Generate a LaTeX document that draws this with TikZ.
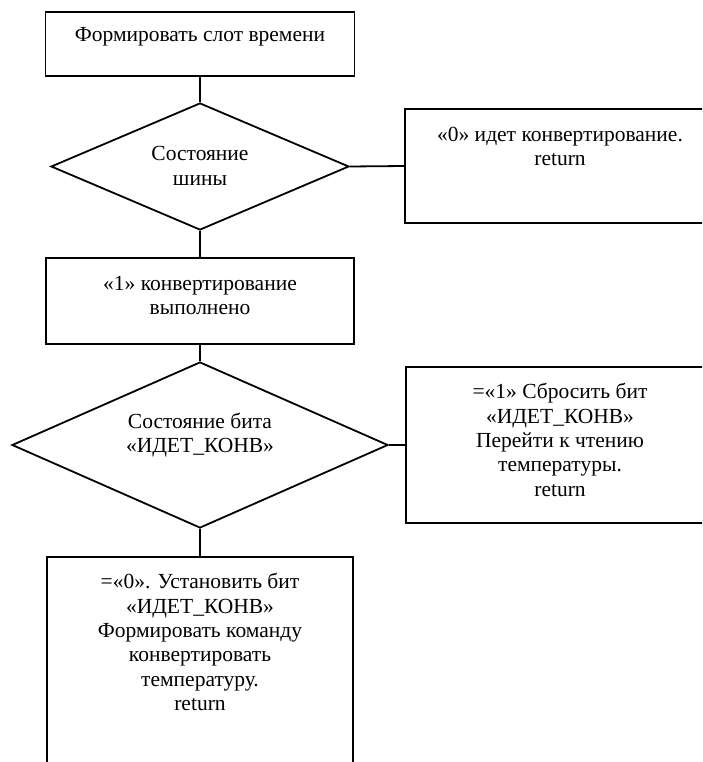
\documentclass[tikz,border=0pt]{standalone}
\usepackage{fontspec}
\setmainfont{Liberation Serif}
\usetikzlibrary{shapes.geometric}
\begin{document}
\begin{tikzpicture}[x=1pt,y=-1pt,
  box/.style={draw,line width=1.8pt,rectangle,inner sep=0pt},
  dia/.style={draw,line width=1.8pt,diamond,inner sep=0pt},
  txt/.style={align=center,inner sep=0pt,font=\fontsize{21.5}{24.3}\selectfont},
  link/.style={line width=1.8pt}]
\useasboundingbox (0,0) rectangle (702,762);
\clip (0,0) rectangle (702,762);
\fill[white] (0,0) rectangle (702,762);
% shapes
\node[box,minimum width=309pt,minimum height=64pt] (b1) at (200,44) {};
\node[dia,minimum width=298pt,minimum height=127pt] (d1) at (200,166.5) {};
\node[box,minimum width=310pt,minimum height=114pt] (b2) at (560,166) {};
\node[box,minimum width=308pt,minimum height=86pt] (b3) at (200,301) {};
\node[dia,minimum width=376pt,minimum height=166pt] (d2) at (200,445) {};
\node[box,minimum width=309pt,minimum height=156pt] (b4) at (560.5,445) {};
\node[box,minimum width=306pt,minimum height=243pt] (b5) at (200,678.5) {};
% texts
\node[txt] (t1) at (200,37) {Формировать слот времени};
\node[txt] (t2) at (200,166) {Состояние\\шины};
\node[txt] (t3) at (560,146.5) {«0» идет конвертирование.\\return};
\node[txt] (t4) at (200,295.5) {«1» конвертирование\\выполнено};
\node[txt] (t5) at (200,435) {Состояние бита\\«ИДЕТ\_КОНВ»};
\node[txt] (t6) at (560,440) {=«1» Сбросить бит\\«ИДЕТ\_КОНВ»\\Перейти к чтению\\температуры.\\return};
\node[txt] (t7) at (200,642) {=«0». Установить бит\\«ИДЕТ\_КОНВ»\\Формировать команду\\конвертировать\\температуру.\\return};
% connectors
\draw[link] (b1.south) -- (d1.north);
\draw[link] (d1.east) -- (b2.west);
\draw[link] (d1.south) -- (b3.north);
\draw[link] (b3.south) -- (d2.north);
\draw[link] (d2.east) -- (b4.west);
\draw[link] (d2.south) -- (b5.north);
\end{tikzpicture}
\end{document}
